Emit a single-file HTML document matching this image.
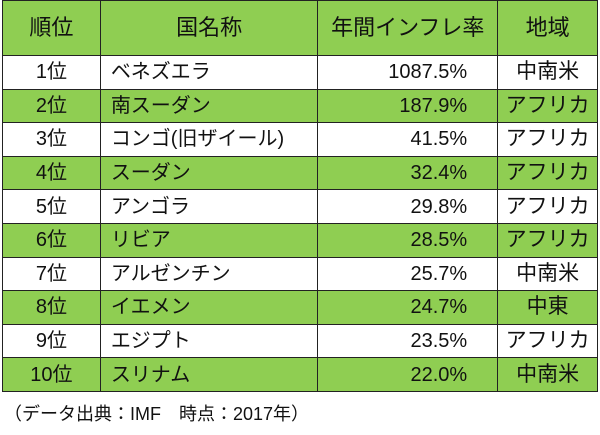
<!DOCTYPE html>
<html><head><meta charset="utf-8"><style>
body{margin:0;width:600px;height:435px;background:#fff;font-family:"Liberation Sans","Noto Sans CJK JP",sans-serif;color:#111;overflow:hidden}
table{position:absolute;left:2px;top:0;border-collapse:collapse;width:596px}
td{border:1.5px solid #222;padding:0;font-size:20px;height:32.6px;line-height:32px}
tr.h td{height:54px;font-size:22px;text-align:center;background:#8fce52}
tr.g td{background:#8fce52}
.r{text-align:center}.n{padding-left:10px}.v{text-align:right;padding-right:30px}
.rg{text-align:center;font-size:21px}
.c{position:absolute;left:4px;top:400px;font-size:18px}
</style></head><body>
<table>
<colgroup><col style="width:98px"><col style="width:218px"><col style="width:180px"><col style="width:100px"></colgroup>
<tr class="h"><td>順位</td><td>国名称</td><td>年間インフレ率</td><td>地域</td></tr>
<tr><td class="r">1位</td><td class="n">ベネズエラ</td><td class="v">1087.5%</td><td class="rg">中南米</td></tr>
<tr class="g"><td class="r">2位</td><td class="n">南スーダン</td><td class="v">187.9%</td><td class="rg">アフリカ</td></tr>
<tr><td class="r">3位</td><td class="n">コンゴ(旧ザイール)</td><td class="v">41.5%</td><td class="rg">アフリカ</td></tr>
<tr class="g"><td class="r">4位</td><td class="n">スーダン</td><td class="v">32.4%</td><td class="rg">アフリカ</td></tr>
<tr><td class="r">5位</td><td class="n">アンゴラ</td><td class="v">29.8%</td><td class="rg">アフリカ</td></tr>
<tr class="g"><td class="r">6位</td><td class="n">リビア</td><td class="v">28.5%</td><td class="rg">アフリカ</td></tr>
<tr><td class="r">7位</td><td class="n">アルゼンチン</td><td class="v">25.7%</td><td class="rg">中南米</td></tr>
<tr class="g"><td class="r">8位</td><td class="n">イエメン</td><td class="v">24.7%</td><td class="rg">中東</td></tr>
<tr><td class="r">9位</td><td class="n">エジプト</td><td class="v">23.5%</td><td class="rg">アフリカ</td></tr>
<tr class="g"><td class="r">10位</td><td class="n">スリナム</td><td class="v">22.0%</td><td class="rg">中南米</td></tr>
</table>
<div class="c">（データ出典：IMF　時点：2017年）</div>
</body></html>
